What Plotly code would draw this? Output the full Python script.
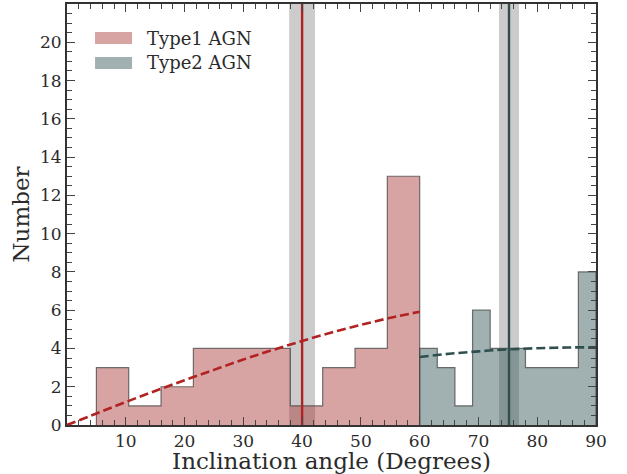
import plotly.graph_objects as go

# ---- data ----
type1_edges = [5, 10.5, 16, 21.5, 27, 32.5, 38, 43.5, 49, 54.5, 60]
type1_counts = [3, 1, 2, 4, 4, 4, 1, 3, 4, 13]
type2_edges = [60, 63, 66, 69, 72, 75, 78, 81, 84, 87, 90]
type2_counts = [4, 3, 1, 6, 4, 4, 3, 3, 3, 8]

type1_median = 40.0
type1_err = 2.2
type2_median = 75.2
type2_err = 1.7

type1_curve_x = [0, 5, 10, 15, 20, 25, 30, 35, 40, 45, 50, 55, 60]
type1_curve_y = [0, 0.6, 1.2, 1.78, 2.34, 2.88, 3.42, 3.92, 4.39, 4.83, 5.23, 5.6, 5.92]
type2_curve_x = [60, 65, 70, 75, 80, 85, 90]
type2_curve_y = [3.55, 3.72, 3.85, 3.95, 4.01, 4.05, 4.06]

x_ticks = [10, 20, 30, 40, 50, 60, 70, 80, 90]
y_ticks = [0, 2, 4, 6, 8, 10, 12, 14, 16, 18, 20]
legend_labels = ["Type1 AGN", "Type2 AGN"]

# ---- styles ----
FONT = "DejaVu Serif"
TXT = "#2b2b2b"
c1_fill = "rgba(165,42,42,0.43)"
c2_fill = "rgba(47,79,79,0.45)"
c1_line = "#b22222"
c2_line = "#2f4f4f"
edge = "rgba(70,70,70,0.75)"


def step_xy(edges, counts):
    xs = [edges[0]] + list(edges)
    ys = [0] + list(counts) + [0]
    return xs, ys


fig = go.Figure()

for edges, counts, fill in [(type1_edges, type1_counts, c1_fill),
                            (type2_edges, type2_counts, c2_fill)]:
    xs, ys = step_xy(edges, counts)
    fig.add_trace(go.Scatter(x=xs, y=ys, mode="lines", line=dict(shape="hv", color=edge, width=1.2),
                             fill="tozeroy", fillcolor=fill, showlegend=False, hoverinfo="skip"))

# median bands
for m, e in [(type1_median, type1_err), (type2_median, type2_err)]:
    fig.add_shape(type="rect", xref="x", yref="paper", x0=m - e, x1=m + e, y0=0, y1=1,
                  fillcolor="rgba(128,128,128,0.4)", line=dict(width=0), layer="below")

# dashed curves
fig.add_trace(go.Scatter(x=type1_curve_x, y=type1_curve_y, mode="lines",
                         line=dict(color=c1_line, width=2.6, dash="9px,4px", shape="spline"),
                         showlegend=False))
fig.add_trace(go.Scatter(x=type2_curve_x, y=type2_curve_y, mode="lines",
                         line=dict(color=c2_line, width=2.6, dash="9px,4px", shape="spline"),
                         showlegend=False))

# median lines
for m, c in [(type1_median, c1_line), (type2_median, c2_line)]:
    fig.add_trace(go.Scatter(x=[m, m], y=[0, 22], mode="lines", line=dict(color=c, width=2.4),
                             showlegend=False))

# custom legend (patches + text)
leg_rows = [(0.9335, 0.905, 0.919, c1_fill), (0.874, 0.8456, 0.860, c2_fill)]
for (y1, y0, yc, fc), lab in zip(leg_rows, legend_labels):
    fig.add_shape(type="rect", xref="paper", yref="paper", x0=0.053, x1=0.123, y0=y0, y1=y1,
                  fillcolor=fc, line=dict(width=0), layer="above")
    fig.add_annotation(xref="paper", yref="paper", x=0.147, y=yc, text=lab, showarrow=False,
                       xanchor="left", yanchor="middle", font=dict(family=FONT, size=18, color=TXT))

axis_common = dict(showline=True, linecolor="#333333", linewidth=1.8, mirror="allticks",
                   ticks="inside", ticklen=8, tickwidth=1.3, tickcolor="#444444",
                   showgrid=False, zeroline=False, automargin=True,
                   tickfont=dict(family=FONT, size=17, color=TXT))

fig.update_xaxes(range=[0, 90], tickmode="array", tickvals=x_ticks,
                 minor=dict(dtick=2, tick0=0, ticklen=5, tickwidth=1.2, tickcolor="#444444", ticks="inside"),
                 title=dict(text="Inclination angle (Degrees)", font=dict(family=FONT, size=23, color=TXT), standoff=1),
                 **axis_common)
fig.update_yaxes(range=[0, 22], tickmode="array", tickvals=y_ticks,
                 minor=dict(dtick=0.5, tick0=0, ticklen=5, tickwidth=1.2, tickcolor="#444444", ticks="inside"),
                 title=dict(text="Number", font=dict(family=FONT, size=23, color=TXT), standoff=4),
                 **axis_common)

fig.update_layout(width=627, height=474, margin=dict(l=67, r=31, t=4, b=49, autoexpand=False),
                  plot_bgcolor="white", paper_bgcolor="white", showlegend=False)

fig.write_html("out.html", config={"displayModeBar": False},
               post_script="document.body.style.margin='0';document.body.style.padding='0';")
